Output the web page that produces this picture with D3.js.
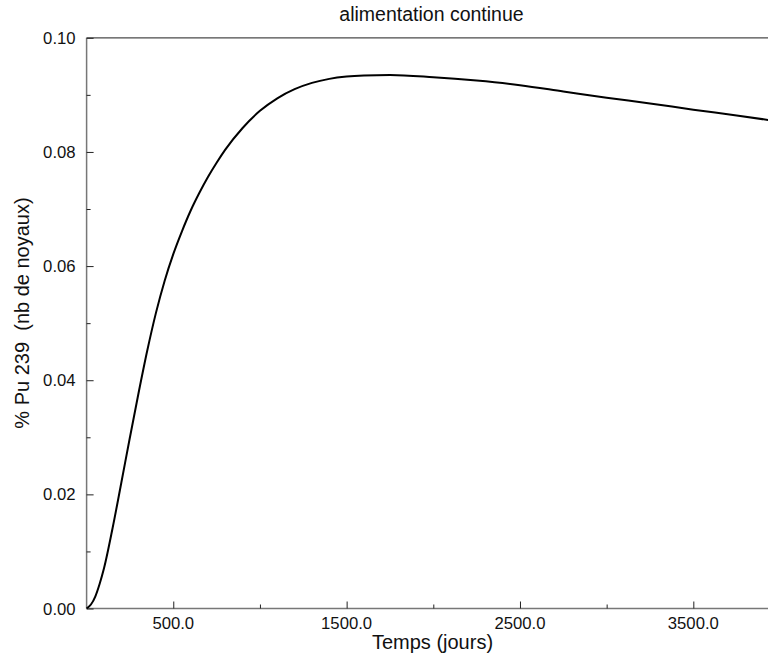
<!DOCTYPE html>
<html>
<head>
<meta charset="utf-8">
<script src="https://cdn.jsdelivr.net/npm/d3@7"></script>
<style>
  html, body { margin: 0; padding: 0; background: #fff; }
  svg { display: block; font-family: "Liberation Sans", Arial, sans-serif; }
</style>
</head>
<body>
<svg id="chart" width="768" height="660"></svg>
<script>
// Data
const days = [0, 25, 50, 75, 100, 150, 200, 250, 300, 350, 400, 450, 500, 550, 600, 650, 700, 750, 800, 900, 1000, 1100, 1200, 1300, 1400, 1500, 1600, 1750, 2000, 2250, 2500, 2750, 3000, 3250, 3500, 3750, 4000];
const pu239 = [0, 0.0007, 0.0021, 0.0043, 0.0070, 0.0141, 0.0220, 0.0300, 0.0378, 0.0452, 0.0518, 0.0574, 0.0621, 0.0661, 0.0697, 0.0728, 0.0756, 0.0781, 0.0804, 0.0842, 0.0872, 0.0894, 0.0910, 0.0921, 0.0928, 0.0932, 0.0934, 0.0935, 0.0931, 0.0925, 0.0917, 0.0906, 0.0895, 0.0885, 0.0874, 0.0864, 0.0853];
const xMajorTicks = [500, 1500, 2500, 3500];
const xMinorTicks = [1000, 2000, 3000];
const yMajorTicks = [0, 0.02, 0.04, 0.06, 0.08, 0.10];
const yMinorTicks = [0.01, 0.03, 0.05, 0.07, 0.09];
const titleText = "alimentation continue";
const xLabel = "Temps (jours)";
const yLabel = "% Pu 239  (nb de noyaux)";

(function () {
const svg = d3.select("#chart");
const pL = 86.6, pR = 780, pT = 37.8, pB = 608.5;

const x = d3.scaleLinear().domain([0, 4000]).range([pL, pR]);
const y = d3.scaleLinear().domain([0, 0.1]).range([pB, pT]);

// frame: top line
svg.append("line").attr("x1", pL).attr("x2", pR).attr("y1", pT).attr("y2", pT)
  .attr("stroke", "#4a4a4a").attr("stroke-width", 1.2);

// x axis (ticks inward)
const gx = svg.append("g").attr("transform", `translate(0,${pB})`);
gx.call(d3.axisTop(x).tickValues(xMajorTicks).tickSize(7).tickFormat(""));
gx.selectAll(".tick line").attr("stroke", "#222");
const gxMin = svg.append("g").attr("transform", `translate(0,${pB})`);
gxMin.call(d3.axisTop(x).tickValues(xMinorTicks).tickSize(4).tickFormat(""));
gxMin.select(".domain").remove();
gxMin.selectAll(".tick line").attr("stroke", "#222");
gx.select(".domain").attr("stroke", "#777").attr("stroke-width", 1.5).attr("d", `M${pL},0H${pR}`);

svg.append("g").selectAll("text").data(xMajorTicks).join("text")
  .attr("x", d => x(d)).attr("y", pB + 20)
  .attr("text-anchor", "middle").attr("font-size", 16.7).attr("fill", "#111")
  .text(d => d3.format(".1f")(d));

// y axis (ticks inward)
const gy = svg.append("g").attr("transform", `translate(${pL},0)`);
gy.call(d3.axisRight(y).tickValues(yMajorTicks).tickSize(7).tickFormat(""));
gy.selectAll(".tick line").attr("stroke", "#222");
const gyMin = svg.append("g").attr("transform", `translate(${pL},0)`);
gyMin.call(d3.axisRight(y).tickValues(yMinorTicks).tickSize(4).tickFormat(""));
gyMin.select(".domain").remove();
gyMin.selectAll(".tick line").attr("stroke", "#222");
gy.select(".domain").attr("stroke", "#777").attr("stroke-width", 1.5).attr("d", `M0,${pT}V${pB}`);

svg.append("g").selectAll("text").data(yMajorTicks).join("text")
  .attr("x", pL - 11).attr("y", d => y(d)).attr("dy", "0.36em")
  .attr("text-anchor", "end").attr("font-size", 16.7).attr("fill", "#111")
  .text(d => d3.format(".2f")(d));

// curve
const line = d3.line().x((d, i) => x(days[i])).y(d => y(d)).curve(d3.curveMonotoneX);
svg.append("path").datum(pu239).attr("d", line)
  .attr("fill", "none").attr("stroke", "#000").attr("stroke-width", 2);

// labels
svg.append("text").attr("x", 431.5).attr("y", 20.5).attr("text-anchor", "middle")
  .attr("font-size", 19.5).attr("fill", "#111").text(titleText);
svg.append("text").attr("x", 432.5).attr("y", 649).attr("text-anchor", "middle")
  .attr("font-size", 20).attr("fill", "#111").text(xLabel);
svg.append("text").attr("transform", "translate(29,313) rotate(-90)").attr("text-anchor", "middle")
  .attr("font-size", 20).attr("fill", "#111").attr("xml:space", "preserve").style("white-space", "pre").text(yLabel);
})();
</script>
</body>
</html>
